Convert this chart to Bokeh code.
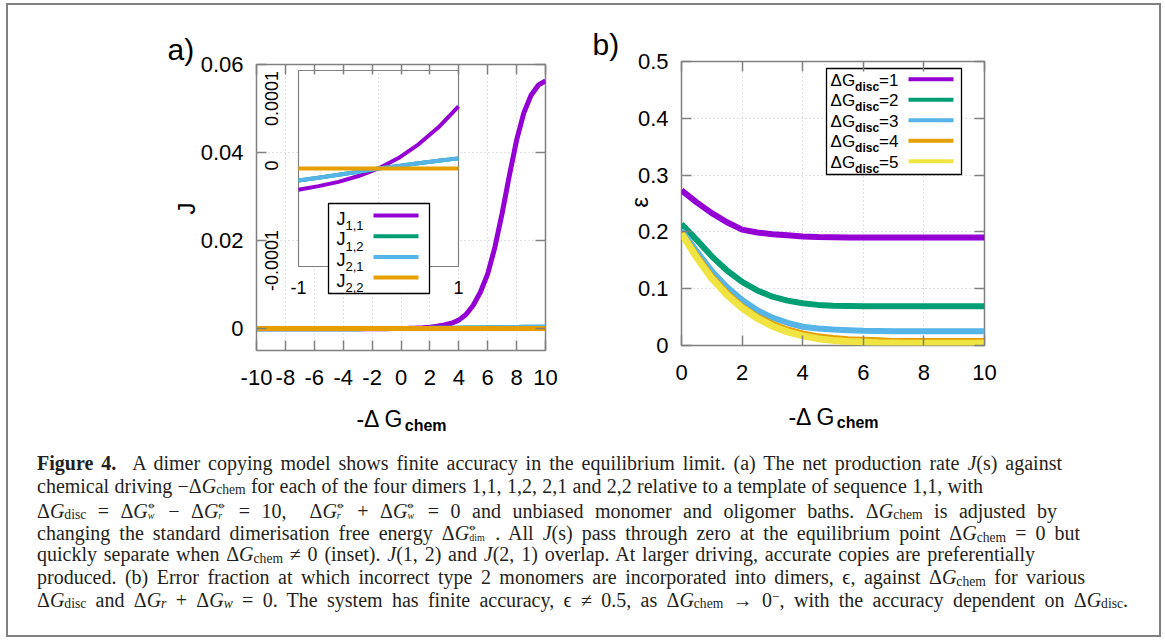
import math
from bokeh.plotting import figure
from bokeh.models import Range1d, FixedTicker, LinearAxis, Label, Div
from bokeh.layouts import column, row
from bokeh.embed import file_html
from bokeh.resources import INLINE

# ---------------- data ----------------
a_x = [-10.0, -9.5, -9.0, -8.5, -8.0, -7.5, -7.0, -6.5, -6.0, -5.5, -5.0, -4.5, -4.0, -3.5,
       -3.0, -2.5, -2.0, -1.5, -1.0, -0.5, 0.0, 0.5, 1.0, 1.5, 2.0, 2.5, 3.0, 3.5, 4.0, 4.5,
       5.0, 5.5, 6.0, 6.5, 7.0, 7.5, 8.0, 8.5, 9.0, 9.5, 10.0]
a_J11 = [-0.00005, -0.00005, -0.00005, -0.00005, -0.00005, -0.00005, -0.00005, -0.00005,
         -0.00005, -0.00005, -0.00005, -0.00005, -0.000049, -0.000048, -0.000046, -0.000044,
         -0.00004, -0.000037, -0.0000325, -0.0000205, 0.0, 0.000037, 0.000095, 0.00017, 0.0003,
         0.0005, 0.0008, 0.0012, 0.0019, 0.0032, 0.0053, 0.0083, 0.0124, 0.0185, 0.0262, 0.0348,
         0.0428, 0.049, 0.053, 0.0553, 0.0563]
a_J12 = [-0.00003, -0.00003, -0.00003, -0.00003, -0.00003, -0.00003, -0.00003, -0.00003,
         -0.00003, -0.00003, -0.00003, -0.00003, -0.00003, -0.00003, -0.00003, -0.000028,
         -0.000026, -0.000022, -0.0000185, -0.0000095, 0.0, 0.000008, 0.0000155, 0.000023,
         0.00003, 0.00004, 0.00005, 0.00006, 0.00008, 0.0001, 0.00012, 0.00014, 0.00016,
         0.00018, 0.0002, 0.00022, 0.00024, 0.00026, 0.00028, 0.0003, 0.00031]
a_J21 = [-0.00003, -0.00003, -0.00003, -0.00003, -0.00003, -0.00003, -0.00003, -0.00003,
         -0.00003, -0.00003, -0.00003, -0.00003, -0.00003, -0.00003, -0.00003, -0.000028,
         -0.000026, -0.000022, -0.0000185, -0.0000095, 0.0, 0.000008, 0.0000155, 0.000023,
         0.00003, 0.00004, 0.00005, 0.00006, 0.00008, 0.0001, 0.00012, 0.00014, 0.00016,
         0.00018, 0.0002, 0.00022, 0.00024, 0.00026, 0.00028, 0.0003, 0.00031]
a_J22 = [0.0] * len(a_x)

a_xticks = [-10, -8, -6, -4, -2, 0, 2, 4, 6, 8, 10]
a_xtick_labels = ["-10", "-8", "-6", "-4", "-2", "0", "2", "4", "6", "8", "10"]
a_yticks = [0, 0.02, 0.04, 0.06]
a_ytick_labels = ["0", "0.02", "0.04", "0.06"]

# inset of panel a
in_x = [-1.0, -0.75, -0.5, -0.25, 0.0, 0.25, 0.5, 0.75, 1.0]
in_J11 = [-3.25e-5, -2.7e-5, -2.05e-5, -1.15e-5, 0.0, 1.6e-5, 3.7e-5, 6.3e-5, 9.5e-5]
in_J12 = [-1.85e-5, -1.4e-5, -0.95e-5, -0.5e-5, 0.0, 0.4e-5, 0.8e-5, 1.2e-5, 1.55e-5]
in_J21 = [-1.85e-5, -1.4e-5, -0.95e-5, -0.5e-5, 0.0, 0.4e-5, 0.8e-5, 1.2e-5, 1.55e-5]
in_J22 = [0.0] * len(in_x)
in_xticks = [-1, 1]
in_xtick_labels = ["-1", "1"]
in_yticks = [0.0001, 0, -0.0001]
in_ytick_labels = ["0.0001", "0", "-0.0001"]
a_legend = [("J", "1,1"), ("J", "1,2"), ("J", "2,1"), ("J", "2,2")]

# panel b
b_x = [0.0, 0.5, 1.0, 1.5, 2.0, 2.5, 3.0, 3.5, 4.0, 4.5, 5.0, 5.5, 6.0, 6.5, 7.0, 7.5, 8.0,
       8.5, 9.0, 9.5, 10.0]
b_eps1 = [0.273, 0.252, 0.233, 0.217, 0.204, 0.199, 0.196, 0.194, 0.192, 0.191, 0.1905,
          0.190, 0.190, 0.190, 0.190, 0.190, 0.190, 0.190, 0.190, 0.190, 0.190]
b_eps2 = [0.214, 0.186, 0.157, 0.132, 0.112, 0.097, 0.086, 0.079, 0.0745, 0.0715, 0.070,
          0.0695, 0.069, 0.069, 0.069, 0.069, 0.069, 0.069, 0.069, 0.069, 0.069]
b_eps3 = [0.203, 0.166, 0.131, 0.103, 0.080, 0.062, 0.049, 0.040, 0.033, 0.030, 0.028,
          0.027, 0.026, 0.0255, 0.025, 0.025, 0.025, 0.025, 0.025, 0.025, 0.025]
b_eps4 = [0.200, 0.160, 0.123, 0.094, 0.070, 0.052, 0.039, 0.029, 0.022, 0.017, 0.014,
          0.012, 0.011, 0.010, 0.009, 0.009, 0.009, 0.009, 0.009, 0.009, 0.009]
b_eps5 = [0.197, 0.155, 0.118, 0.089, 0.066, 0.048, 0.034, 0.024, 0.017, 0.012, 0.009,
          0.007, 0.006, 0.005, 0.0045, 0.004, 0.004, 0.004, 0.004, 0.004, 0.004]
b_series_names = ["1", "2", "3", "4", "5"]
b_xticks = [0, 2, 4, 6, 8, 10]
b_xtick_labels = ["0", "2", "4", "6", "8", "10"]
b_yticks = [0, 0.1, 0.2, 0.3, 0.4, 0.5]
b_ytick_labels = ["0", "0.1", "0.2", "0.3", "0.4", "0.5"]

# ---------------- style / layout constants ----------------
FONT = "Liberation Sans"
PURPLE, GREEN, BLUE, ORANGE, YELLOW = "#9400d3", "#009e73", "#56b4e9", "#e69f00", "#f0e442"
FRAME = "#808080"
GRID = "#c4c4c4"

OX, OY = 8, 5                              # page position of the content origin
A_L, A_R, A_T, A_B = 256, 545, 64, 350     # panel a frame (page px)
B_L, B_R, B_T, B_B = 681, 984, 61, 345     # panel b frame (page px)
I_L, I_R, I_T, I_B = 298, 458, 70, 266     # inset frame (page px)
A_X0, A_X1, A_Y0, A_Y1 = -10, 10, -0.005, 0.06
B_X0, B_X1, B_Y0, B_Y1 = 0, 10, 0, 0.5
IN_X0, IN_X1, IN_Y0, IN_Y1 = -1, 1, -0.00015, 0.00015
W_A, H_TOP = 575, 440
W_TOT, H_TOT = 1151, 630


def ax_(px): return A_X0 + (px - A_L) / (A_R - A_L) * (A_X1 - A_X0)
def ay_(py): return A_Y1 - (py - A_T) / (A_B - A_T) * (A_Y1 - A_Y0)
def bx_(px): return B_X0 + (px - B_L) / (B_R - B_L) * (B_X1 - B_X0)
def by_(py): return B_Y1 - (py - B_T) / (B_B - B_T) * (B_Y1 - B_Y0)


def label(p, x, y, text, size, bold=False, side=None, **kw):
    lab = Label(x=x, y=y, text=text, text_font=FONT, text_font_size=f"{size}px",
                text_font_style="bold" if bold else "normal", text_color="black", **kw)
    if side is None:
        p.add_layout(lab)
    else:
        p.add_layout(lab, side)


def style(p, xticks, xlabels, yticks, ylabels):
    p.xaxis.ticker = FixedTicker(ticks=xticks)
    p.yaxis.ticker = FixedTicker(ticks=yticks)
    p.xgrid.ticker = FixedTicker(ticks=xticks)
    p.ygrid.ticker = FixedTicker(ticks=yticks)
    p.xaxis.major_label_overrides = dict(zip(xticks, xlabels))
    p.yaxis.major_label_overrides = dict(zip(yticks, ylabels))
    p.xaxis.major_label_standoff = 19
    p.yaxis.major_label_standoff = 13
    for a in p.axis:
        a.axis_line_color = None
        a.major_tick_in = 10
        a.major_tick_out = 0
        a.major_tick_line_color = FRAME
        a.major_tick_line_width = 1.5
        a.minor_tick_line_color = None
        a.major_label_text_font = FONT
        a.major_label_text_font_size = "22px"
        a.major_label_text_color = "black"
    for loc, tk in (("above", xticks), ("right", yticks)):
        m = LinearAxis(ticker=FixedTicker(ticks=tk), major_label_text_color=None,
                       axis_line_color=None, major_tick_in=10, major_tick_out=0,
                       major_tick_line_color=FRAME, major_tick_line_width=1.5,
                       minor_tick_line_color=None)
        p.add_layout(m, loc)
    p.grid.grid_line_color = GRID
    p.grid.grid_line_dash = "1 3"
    p.grid.grid_line_width = 1
    p.outline_line_color = FRAME
    p.outline_line_width = 1.5
    p.background_fill_color = "white"
    p.border_fill_color = "white"
    p.frame_align = False


# ---------------- panel a ----------------
pa = figure(width=W_A, height=H_TOP, x_range=Range1d(A_X0, A_X1), y_range=Range1d(A_Y0, A_Y1),
            output_backend="svg", toolbar_location=None,
            min_border_left=A_L - OX, min_border_right=W_A - (A_R - OX),
            min_border_top=A_T - OY, min_border_bottom=H_TOP - (A_B - OY))
style(pa, a_xticks, a_xtick_labels, a_yticks, a_ytick_labels)

for ys, c in ((a_J11, PURPLE), (a_J12, GREEN), (a_J21, BLUE), (a_J22, ORANGE)):
    pa.line(a_x, ys, line_color=c, line_width=5)

# inset drawn through its own ranges
ipx = (IN_X1 - IN_X0) / (I_R - I_L)
ipy = (IN_Y1 - IN_Y0) / (I_B - I_T)
pa.extra_x_ranges = {"ix": Range1d(IN_X0 - (I_L - A_L) * ipx, IN_X1 + (A_R - I_R) * ipx)}
pa.extra_y_ranges = {"iy": Range1d(IN_Y0 - (A_B - I_B) * ipy, IN_Y1 + (I_T - A_T) * ipy)}
IK = dict(x_range_name="ix", y_range_name="iy")
pa.quad(left=IN_X0, right=IN_X1, bottom=IN_Y0, top=IN_Y1, fill_color="white",
        line_color=FRAME, line_width=1.2, **IK)
pa.segment(x0=0, y0=IN_Y0, x1=0, y1=IN_Y1, line_color=GRID, line_dash="1 3", line_width=1, **IK)
for ys, c in ((in_J11, PURPLE), (in_J12, GREEN), (in_J21, BLUE), (in_J22, ORANGE)):
    pa.line(in_x, ys, line_color=c, line_width=4, **IK)
for v, t in zip(in_xticks, in_xtick_labels):
    label(pa, v, IN_Y0 - 21 * ipy, t, 18, text_align="center", text_baseline="middle", **IK)
for t, cy in zip(in_ytick_labels, (98, 165, 260)):
    label(pa, IN_X0 - 27 * ipx, IN_Y1 - (cy - I_T) * ipy, t, 18, angle=math.pi / 2,
          text_align="center", text_baseline="middle", **IK)

# inset legend
pa.quad(left=ax_(328), right=ax_(429), top=ay_(203), bottom=ay_(293), fill_color="white",
        line_color="black", line_width=1.3)
for i, ((main, sub_t), c) in enumerate(zip(a_legend, (PURPLE, GREEN, BLUE, ORANGE))):
    yl = 215 + 20.7 * i
    pa.segment(x0=ax_(373), y0=ay_(yl), x1=ax_(418), y1=ay_(yl), line_color=c, line_width=4)
    label(pa, ax_(336), ay_(yl + 3), main, 18, text_align="left", text_baseline="middle")
    label(pa, ax_(345), ay_(yl + 10), sub_t, 13, text_align="left", text_baseline="middle")

# panel a texts outside the frame (placed in side panels so they are not clipped)
label(pa, ax_(167), ay_(48.5), "a)", 30, side="left", text_align="left", text_baseline="middle")
label(pa, ax_(186), ay_(208), "J", 24, side="left", angle=math.pi / 2, text_align="center",
      text_baseline="middle")
XL_M, XL_S = 23, 16
wm, ws = 2.057 * XL_M, 2.61 * XL_S
cx = (A_L + A_R) / 2
label(pa, ax_(cx - (wm + ws) / 2), ay_(418.5), "-Δ G", XL_M, side="below", text_align="left",
      text_baseline="middle")
label(pa, ax_(cx - (wm + ws) / 2 + wm + 1), ay_(424.5), "chem", XL_S, bold=True, side="below",
      text_align="left", text_baseline="middle")

# ---------------- panel b ----------------
W_B = W_TOT - W_A
OXB = OX + W_A
pb = figure(width=W_B, height=H_TOP, x_range=Range1d(B_X0, B_X1), y_range=Range1d(B_Y0, B_Y1),
            output_backend="svg", toolbar_location=None,
            min_border_left=B_L - OXB, min_border_right=W_B - (B_R - OXB),
            min_border_top=B_T - OY, min_border_bottom=H_TOP - (B_B - OY))
style(pb, b_xticks, b_xtick_labels, b_yticks, b_ytick_labels)

b_colors = (PURPLE, GREEN, BLUE, ORANGE, YELLOW)
b_widths = (6, 6, 6, 5, 7)
for ys, c, w in zip((b_eps1, b_eps2, b_eps3, b_eps4, b_eps5), b_colors, b_widths):
    pb.line(b_x, ys, line_color=c, line_width=w)

pb.quad(left=bx_(826), right=bx_(961), top=by_(68), bottom=by_(174), fill_color="white",
        line_color="black", line_width=1.3)
for i, (n, c) in enumerate(zip(b_series_names, b_colors)):
    yl = 78.7 + 20.5 * i
    pb.segment(x0=bx_(908), y0=by_(yl), x1=bx_(953), y1=by_(yl), line_color=c, line_width=4)
    xr = 898
    w_eq = (0.584 + 0.556) * 17
    w_sub = 2.001 * 12
    label(pb, bx_(xr), by_(yl + 1), "=" + n, 17, text_align="right", text_baseline="middle")
    label(pb, bx_(xr - w_eq), by_(yl + 7.5), "disc", 12, bold=True, text_align="right",
          text_baseline="middle")
    label(pb, bx_(xr - w_eq - w_sub), by_(yl + 1), "ΔG", 17, text_align="right",
          text_baseline="middle")

label(pb, bx_(592), by_(43.5), "b)", 30, side="above", text_align="left", text_baseline="middle")
label(pb, bx_(639), by_(202), "ε", 24, side="left", angle=math.pi / 2, text_align="center",
      text_baseline="middle")
cxb = (B_L + B_R) / 2
label(pb, bx_(cxb - (wm + ws) / 2), by_(416), "-Δ G", XL_M, side="below", text_align="left",
      text_baseline="middle")
label(pb, bx_(cxb - (wm + ws) / 2 + wm + 1), by_(422), "chem", XL_S, bold=True, side="below",
      text_align="left", text_baseline="middle")


# ---------------- caption ----------------
def sub(t):
    return f'<span style="font-size:0.68em;position:relative;top:0.12em;">{t}</span>'


def sup(t):
    return f'<span style="font-size:0.68em;position:relative;top:-0.45em;">{t}</span>'


def stack(a, b, w):
    return ('<span style="display:inline-block;position:relative;height:1em;'
            f'width:{w}em;vertical-align:baseline;">'
            f'<span style="position:absolute;left:0;top:0.2em;font-size:0.5em;line-height:1;">{a}</span>'
            f'<span style="position:absolute;left:0;top:1.31em;font-size:0.5em;line-height:1;">{b}</span>'
            '</span>')


DG = 'Δ<i>G</i>'
SS = '⦵'
cap_lines = [
    '<b>Figure 4.</b>&nbsp;&nbsp;A dimer copying model shows finite accuracy in the equilibrium limit. '
    '(a) The net production rate <i>J</i>(s) against',
    f'chemical driving −{DG}{sub("chem")} for each of the four dimers 1,1, 1,2, 2,1 and 2,2 '
    'relative to a template of sequence 1,1, with',
    f'{DG}{sub("disc")} = {DG}{stack(SS, "<i>w</i>", 0.45)} − {DG}{stack(SS, "<i>r</i>", 0.45)} = 10,&nbsp; '
    f'{DG}{stack(SS, "<i>r</i>", 0.45)} + {DG}{stack(SS, "<i>w</i>", 0.45)} = 0 and unbiased monomer and '
    f'oligomer baths. {DG}{sub("chem")} is adjusted by',
    f'changing the standard dimerisation free energy {DG}{stack(SS, "dim", 0.85)} . All <i>J</i>(s) '
    f'pass through zero at the equilibrium point {DG}{sub("chem")} = 0 but',
    f'quickly separate when {DG}{sub("chem")} ≠ 0 (inset). <i>J</i>(1, 2) and <i>J</i>(2, 1) overlap. '
    'At larger driving, accurate copies are preferentially',
    'produced. (b) Error fraction at which incorrect type 2 monomers are incorporated into dimers, '
    f'ϵ, against {DG}{sub("chem")} for various',
    f'{DG}{sub("disc")} and {DG}{sub("<i>r</i>")} + {DG}{sub("<i>w</i>")} = 0. The system has finite '
    f'accuracy, ϵ ≠ 0.5, as {DG}{sub("chem")} → 0{sup("−")}, with the accuracy dependent on '
    f'{DG}{sub("disc")}.',
]
CAP_X0 = 37
cap_line_ends = [1062, 983, 1057, 1080, 1035, 1085, 1128]
html = ('<div style="font-family:\'Liberation Serif\',serif;font-size:20px;color:#231f20;'
        f'padding:7px 0 0 {CAP_X0 - OX}px;">'
        + "".join(f'<div style="height:22.8px;line-height:22.8px;white-space:nowrap;'
                  f'width:{e - CAP_X0}px;text-align:justify;text-align-last:justify;">{l}</div>'
                  for l, e in zip(cap_lines, cap_line_ends))
        + '</div>')
cap = Div(text=html, width=W_TOT, height=H_TOT - H_TOP, margin=0,
          styles={"background-color": "white"})

layout = column(row(pa, pb, margin=0), cap, margin=(3, 0, 0, 6),
                styles={"border": "2px solid #808080", "background-color": "white"})

open("out.html", "w").write(file_html(layout, INLINE))
